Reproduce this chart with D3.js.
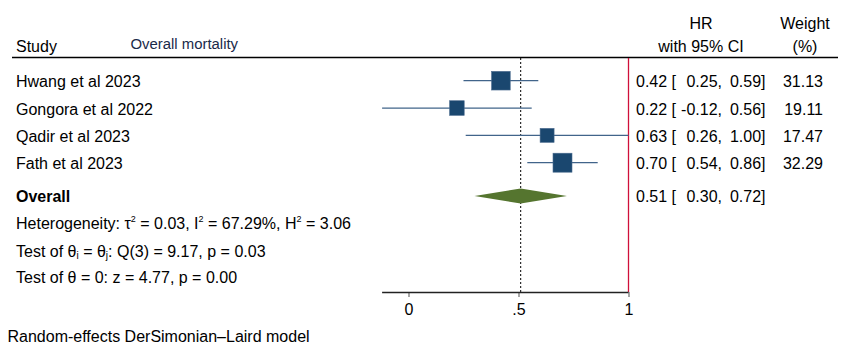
<!doctype html>
<html>
<head>
<meta charset="utf-8">
<title>Forest plot</title>
<script src="https://cdn.jsdelivr.net/npm/d3@7"></script>
<style>
  body { margin: 0; background: #fff; }
  svg { display: block; }
  text { font-family: "Liberation Sans", Arial, sans-serif; fill: #000; }
</style>
</head>
<body>
<svg width="851" height="351"></svg>
<script>
var studies = ["Hwang et al 2023", "Gongora et al 2022", "Qadir et al 2023", "Fath et al 2023"];
var hr = [0.42, 0.22, 0.63, 0.70];
var lower = [0.25, -0.12, 0.26, 0.54];
var upper = [0.59, 0.56, 1.00, 0.86];
var weights = [31.13, 19.11, 17.47, 32.29];
var overall = { est: 0.51, lo: 0.30, hi: 0.72 };
var xTicks = [0, 0.5, 1];
var xTickLabels = ["0", ".5", "1"];

var svg = d3.select("svg");
var fs = 16;

var x = d3.scaleLinear().domain([0, 1]).range([408.5, 628.5]);
var rowY = d3.scalePoint().domain(d3.range(studies.length)).range([80.7, 162.7]);
var overallY = 196;
var axisY = 292;

function fmt(v) { return v.toFixed(2); }

// headers
svg.append("text").attr("x", 16).attr("y", 51.5).style("font-size", fs + "px").text("Study");
svg.append("text").attr("x", 130.5).attr("y", 49).style("font-size", "14.9px").style("fill", "#1a2a4a").text("Overall mortality");
svg.append("text").attr("x", 701).attr("y", 28.5).attr("text-anchor", "middle").style("font-size", fs + "px").text("HR");
svg.append("text").attr("x", 701).attr("y", 51.5).attr("text-anchor", "middle").style("font-size", fs + "px").text("with 95% CI");
svg.append("text").attr("x", 805).attr("y", 28.5).attr("text-anchor", "middle").style("font-size", fs + "px").text("Weight");
svg.append("text").attr("x", 805).attr("y", 51.5).attr("text-anchor", "middle").style("font-size", fs + "px").text("(%)");

svg.append("line").attr("x1", 12).attr("x2", 838).attr("y1", 57.5).attr("y2", 57.5)
  .attr("stroke", "#000").attr("stroke-width", 1.5);

// reference lines
svg.append("line").attr("x1", x(overall.est)).attr("x2", x(overall.est))
  .attr("y1", 58).attr("y2", axisY)
  .attr("stroke", "#000").attr("stroke-width", 1).attr("stroke-dasharray", "2,2");
svg.append("line").attr("x1", x(1)).attr("x2", x(1))
  .attr("y1", 58).attr("y2", axisY)
  .attr("stroke", "#d0103a").attr("stroke-width", 1.3);

// axis
var axis = d3.axisBottom(x).tickValues(xTicks).tickSize(5)
  .tickFormat(function(d, i) { return xTickLabels[i]; });
var gAx = svg.append("g").attr("transform", "translate(0," + axisY + ")").call(axis);
gAx.select(".domain").remove();
gAx.append("line").attr("x1", x(d3.min(lower))).attr("x2", x(1)).attr("y1", 0.5).attr("y2", 0.5)
  .attr("stroke", "#222").attr("stroke-width", 1.3);
gAx.selectAll(".tick line").attr("stroke", "#777").attr("stroke-width", 1.3);
gAx.selectAll(".tick text").attr("y", 12).style("font-size", fs + "px")
  .style("font-family", "'Liberation Sans', Arial, sans-serif").attr("fill", "#000");

// study rows
var rows = svg.selectAll("g.row").data(studies).enter().append("g").attr("class", "row");
rows.append("text").attr("x", 16).attr("y", function(d, i) { return rowY(i) + 6.5; })
  .style("font-size", fs + "px").text(function(d) { return d; });
rows.append("line")
  .attr("x1", function(d, i) { return x(lower[i]); })
  .attr("x2", function(d, i) { return x(upper[i]); })
  .attr("y1", function(d, i) { return rowY(i); })
  .attr("y2", function(d, i) { return rowY(i); })
  .attr("stroke", "#41648a").attr("stroke-width", 1.3);
rows.append("rect")
  .attr("x", function(d, i) { return x(hr[i]) - 1.67 * Math.sqrt(weights[i]); })
  .attr("y", function(d, i) { return rowY(i) - 1.67 * Math.sqrt(weights[i]); })
  .attr("width", function(d, i) { return 3.34 * Math.sqrt(weights[i]); })
  .attr("height", function(d, i) { return 3.34 * Math.sqrt(weights[i]); })
  .attr("fill", "#1a476f").attr("stroke", "#4a6a8e").attr("stroke-width", 0.6);

function ciText(g, est, lo, hi, y) {
  g.append("text").attr("x", 636).attr("y", y).style("font-size", fs + "px").text(fmt(est) + " [");
  g.append("text").attr("x", 722).attr("y", y).attr("text-anchor", "end").style("font-size", fs + "px").text(fmt(lo) + ",");
  g.append("text").attr("x", 765.5).attr("y", y).attr("text-anchor", "end").style("font-size", fs + "px").text(fmt(hi) + "]");
}
rows.each(function(d, i) {
  var g = d3.select(this);
  ciText(g, hr[i], lower[i], upper[i], rowY(i) + 6.5);
  g.append("text").attr("x", 823).attr("y", rowY(i) + 6.5).attr("text-anchor", "end")
    .style("font-size", fs + "px").text(fmt(weights[i]));
});

// overall
svg.append("text").attr("x", 16).attr("y", overallY + 6.3).style("font-size", fs + "px")
  .style("font-weight", "bold").text("Overall");
svg.append("path")
  .attr("d", d3.line()([[x(overall.lo), overallY], [x(overall.est), overallY - 7.5],
    [x(overall.hi), overallY], [x(overall.est), overallY + 7.5]]) + "Z")
  .attr("fill", "#55752f");
ciText(svg, overall.est, overall.lo, overall.hi, overallY + 6.3);

// heterogeneity & tests
var t1 = svg.append("text").attr("x", 16).attr("y", 229.3).style("font-size", fs + "px");
t1.append("tspan").text("Heterogeneity: \u03c4");
t1.append("tspan").attr("dy", -7).style("font-size", "9px").text("2");
t1.append("tspan").attr("dy", 7).text(" = 0.03, I");
t1.append("tspan").attr("dy", -7).style("font-size", "9px").text("2");
t1.append("tspan").attr("dy", 7).text(" = 67.29%, H");
t1.append("tspan").attr("dy", -7).style("font-size", "9px").text("2");
t1.append("tspan").attr("dy", 7).text(" = 3.06");

var t2 = svg.append("text").attr("x", 16).attr("y", 256.7).style("font-size", fs + "px");
t2.append("tspan").text("Test of \u03b8");
t2.append("tspan").attr("dy", 2).style("font-size", "10px").text("i");
t2.append("tspan").attr("dy", -2).text(" = \u03b8");
t2.append("tspan").attr("dy", 2).style("font-size", "10px").text("j");
t2.append("tspan").attr("dy", -2).text(": Q(3) = 9.17, p = 0.03");

svg.append("text").attr("x", 16).attr("y", 283.3).style("font-size", fs + "px")
  .text("Test of \u03b8 = 0: z = 4.77, p = 0.00");

svg.append("text").attr("x", 7.5).attr("y", 341.7).style("font-size", fs + "px")
  .text("Random-effects DerSimonian\u2013Laird model");
</script>
</body>
</html>
